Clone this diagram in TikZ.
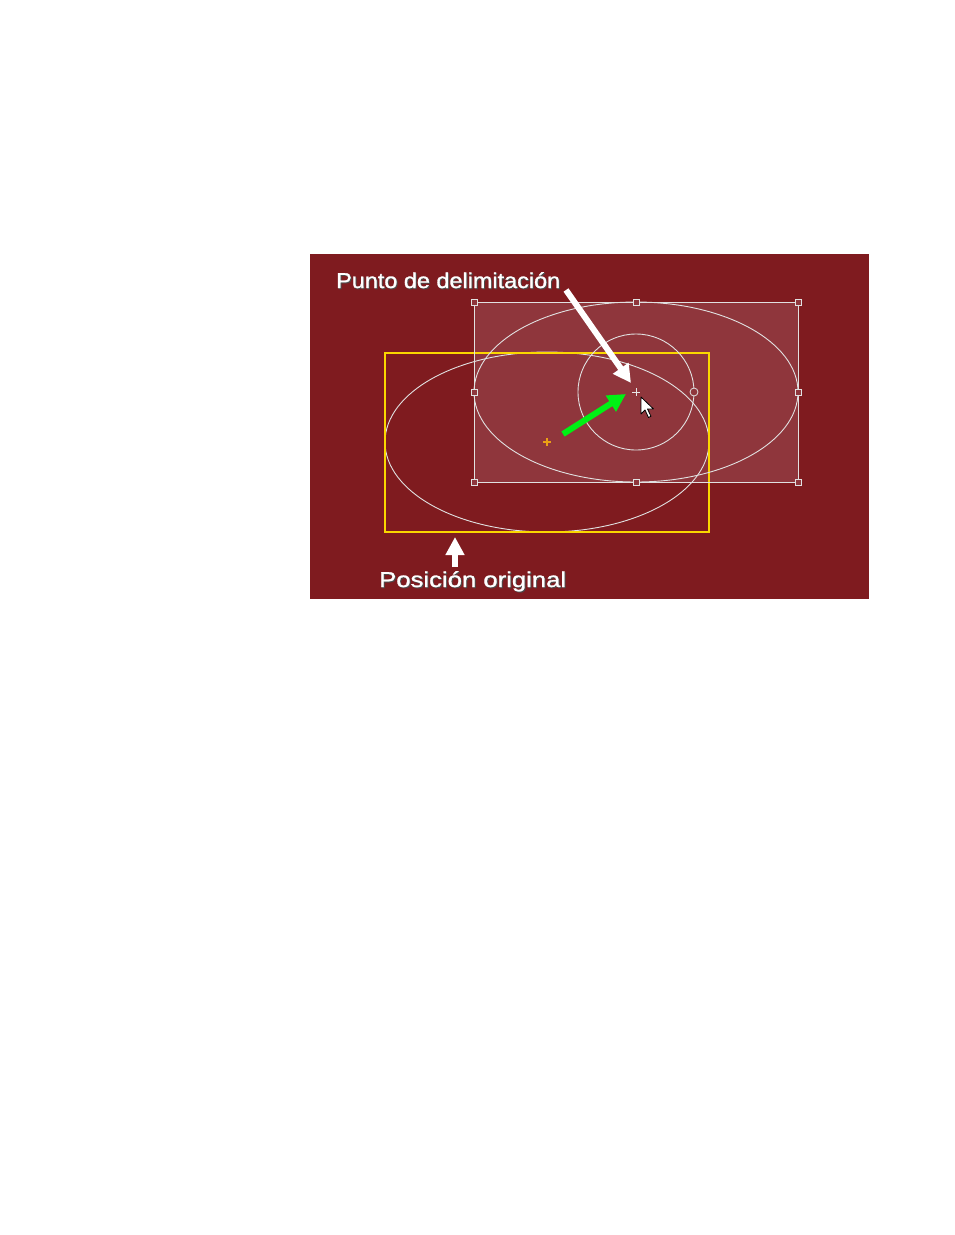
\documentclass[tikz,border=0pt]{standalone}
\usepackage{fontspec}
\usepackage{graphicx}
\setmainfont{Liberation Sans}
\newfontfamily\lblfont[FakeBold=1.2]{Liberation Sans}
\usetikzlibrary{arrows.meta}
\definecolor{panelred}{RGB}{127,27,31}
\definecolor{selred}{RGB}{143,54,60}
\definecolor{linegrey}{RGB}{225,225,225}
\definecolor{yel}{RGB}{250,215,0}
\definecolor{grn}{RGB}{0,240,20}
\definecolor{orng}{RGB}{235,160,20}
\tikzset{
  outline/.style={draw=linegrey, line width=0.9pt},
  handle/.style={draw=linegrey, fill=selred, line width=0.8pt, minimum size=6pt, inner sep=0pt, rectangle},
  lbl/.style={text=white, font=\lblfont\fontsize{21.5}{24}\selectfont, inner sep=0pt, anchor=base west},
  shadowlbl/.style={text=black!70, font=\lblfont\fontsize{21.5}{24}\selectfont, inner sep=0pt, anchor=base west},
  bigarrow/.style={line width=6pt, -{Triangle[length=18pt, width=18pt]}},
}
\newcommand{\fitw}[2]{\resizebox{#1}{\height}{#2}}
\begin{document}
\begin{tikzpicture}[x=1pt,y=-1pt]
\useasboundingbox (0,0) rectangle (954,1235);
% panel
\fill[panelred] (310,254) rectangle (869,599);
% selection rectangle
\fill[selred] (474,302) rectangle (798,482);
% original ellipse and yellow box
\draw[outline] (547,442) ellipse [x radius=162, y radius=90];
\draw[yel, line width=1.4pt] (385,353) rectangle (709,532);
% moved ellipse and circle
\draw[outline] (636,392) ellipse [x radius=162, y radius=90];
\draw[outline] (636,392) circle [radius=58];
\draw[draw=linegrey, line width=1pt] (474,302) rectangle (798,482);
% handles
\foreach \n/\x/\y in {h1/474/302,h2/636/302,h3/798/302,h4/474/392,h5/798/392,h6/474/482,h7/636/482,h8/798/482}
  \node[handle] (\n) at (\x,\y) {};
\node[circle, draw=linegrey, line width=0.8pt, fill=selred, minimum size=8pt, inner sep=0pt] (rot) at (694,392) {};
% centre markers
\coordinate (newc) at (636,392);
\coordinate (oldc) at (547,442);
\draw[linegrey!80, line width=1pt] (632,392) -- (640,392) (636,388) -- (636,396);
\draw[orng, line width=1.2pt] (543,442) -- (551,442) (547,438) -- (547,446);
% labels
\node[shadowlbl] at (337,289) {\fitw{224pt}{Punto de delimitación}};
\node[lbl] (plabel) at (336,288) {\fitw{224pt}{Punto de delimitación}};
\node[shadowlbl] at (380,588) {\fitw{187pt}{Posición original}};
\node[lbl] (olabel) at (379,587) {\fitw{187pt}{Posición original}};
% arrows
\coordinate (wa) at (566,290);
\coordinate (wb) at (631,383);
\draw[white, bigarrow] (wa) -- (wb);
\coordinate (ga) at (563,434);
\coordinate (gb) at (626,394);
\draw[grn, bigarrow] (ga) -- (gb);
\coordinate (ua) at (455,567);
\coordinate (ub) at (455,537);
\draw[white, bigarrow] (ua) -- (ub);
% cursor
\draw[black, fill=white, line width=0.8pt, line join=round]
  (641,397) -- ++(0,17) -- ++(4,-4) -- ++(3.5,7.5) -- ++(2.5,-1.2) -- ++(-3.5,-7.3) -- ++(6,0) -- cycle;
\end{tikzpicture}
\end{document}
